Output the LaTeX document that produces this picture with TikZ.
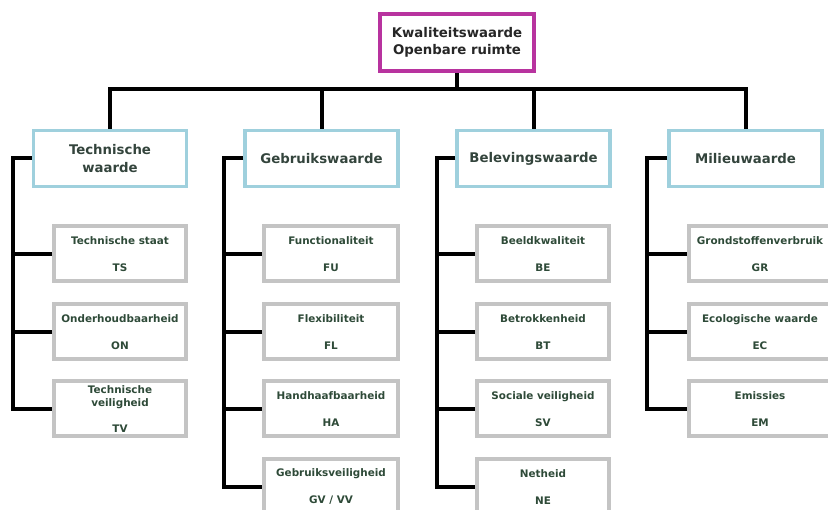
\documentclass[tikz,border=0pt]{standalone}
\usepackage{fontspec}
\setmainfont{DejaVu Sans}
\definecolor{magbox}{HTML}{B8339F}
\definecolor{bluebox}{HTML}{9FD0DD}
\definecolor{graybox}{HTML}{C4C4C4}
\definecolor{toptext}{HTML}{262626}
\definecolor{cattext}{HTML}{33443C}
\definecolor{subtext}{HTML}{2E4A38}
\tikzset{
  topbox/.style={draw=magbox, line width=4pt, fill=white, inner sep=0pt,
    minimum width=154pt, minimum height=57pt, align=center, text=toptext,
    font=\fontsize{13.3}{17}\selectfont\bfseries},
  catbox/.style={draw=bluebox, line width=3.5pt, fill=white, inner sep=0pt,
    minimum width=153pt, minimum height=56pt, align=center, text=cattext,
    font=\fontsize{13.3}{18}\selectfont\bfseries},
  subbox/.style={draw=graybox, line width=4pt, fill=white, inner sep=0pt,
    minimum width=132pt, minimum height=55pt, align=center, text=subtext,
    font=\fontsize{10.4}{13}\selectfont\bfseries},
  conn/.style={draw=black, line width=4pt, line join=miter}
}
\begin{document}
\begin{tikzpicture}[x=1pt,y=-1pt]
\useasboundingbox[fill=white] (0,0) rectangle (828,510);
% top
\node[topbox] (top) at (457,42.5) {Kwaliteitswaarde\\Openbare ruimte};
% categories
\node[catbox] (c1) at (110,158.5) {Technische\\waarde};
\node[catbox] (c2) at (321.5,158.5) {Gebruikswaarde};
\node[catbox] (c3) at (533.5,158.5) {Belevingswaarde};
\node[catbox] (c4) at (745.5,158.5) {Milieuwaarde};
% sub boxes column 1
\node[subbox] (s11) at (120,254) {Technische staat\\[14pt]TS};
\node[subbox] (s12) at (120,332) {Onderhoudbaarheid\\[14pt]ON};
\node[subbox] (s13) at (120,409) {Technische\\veiligheid\\[13pt]TV};
% column 2
\node[subbox, minimum width=134pt] (s21) at (331,254) {Functionaliteit\\[14pt]FU};
\node[subbox, minimum width=134pt] (s22) at (331,332) {Flexibiliteit\\[14pt]FL};
\node[subbox, minimum width=134pt] (s23) at (331,409) {Handhaafbaarheid\\[14pt]HA};
\node[subbox, minimum width=134pt] (s24) at (331,487) {Gebruiksveiligheid\\[14pt]GV / VV};
% column 3
\node[subbox] (s31) at (543,254) {Beeldkwaliteit\\[14pt]BE};
\node[subbox] (s32) at (543,332) {Betrokkenheid\\[14pt]BT};
\node[subbox] (s33) at (543,409) {Sociale veiligheid\\[14pt]SV};
\node[subbox] (s34) at (543,487) {Netheid\\[14pt]NE};
% column 4
\node[subbox, minimum width=142pt] (s41) at (760,254) {Grondstoffenverbruik\\[14pt]GR};
\node[subbox, minimum width=142pt] (s42) at (760,332) {Ecologische waarde\\[14pt]EC};
\node[subbox, minimum width=142pt] (s43) at (760,409) {Emissies\\[14pt]EM};
% bus
\coordinate (bus) at (457,89);
\draw[conn] (top.south) -- (top.south |- bus);
\draw[conn] (c1.north) -- (c1.north |- bus) -- (c4.north |- bus) -- (c4.north);
\draw[conn] (c2.north) -- (c2.north |- bus);
\draw[conn] (c3.north) -- (c3.north |- bus);
% spines
\path (c1.west) ++(-19,0) coordinate (sp1);
\path (c2.west) ++(-19,0) coordinate (sp2);
\path (c3.west) ++(-18,0) coordinate (sp3);
\path (c4.west) ++(-20,0) coordinate (sp4);
\draw[conn] (c1.west) -- (sp1) |- (s13.west);
\draw[conn] (s11.west) -- (s11.west -| sp1);
\draw[conn] (s12.west) -- (s12.west -| sp1);
\draw[conn] (c2.west) -- (sp2) |- (s24.west);
\draw[conn] (s21.west) -- (s21.west -| sp2);
\draw[conn] (s22.west) -- (s22.west -| sp2);
\draw[conn] (s23.west) -- (s23.west -| sp2);
\draw[conn] (c3.west) -- (sp3) |- (s34.west);
\draw[conn] (s31.west) -- (s31.west -| sp3);
\draw[conn] (s32.west) -- (s32.west -| sp3);
\draw[conn] (s33.west) -- (s33.west -| sp3);
\draw[conn] (c4.west) -- (sp4) |- (s43.west);
\draw[conn] (s41.west) -- (s41.west -| sp4);
\draw[conn] (s42.west) -- (s42.west -| sp4);
\end{tikzpicture}
\end{document}
